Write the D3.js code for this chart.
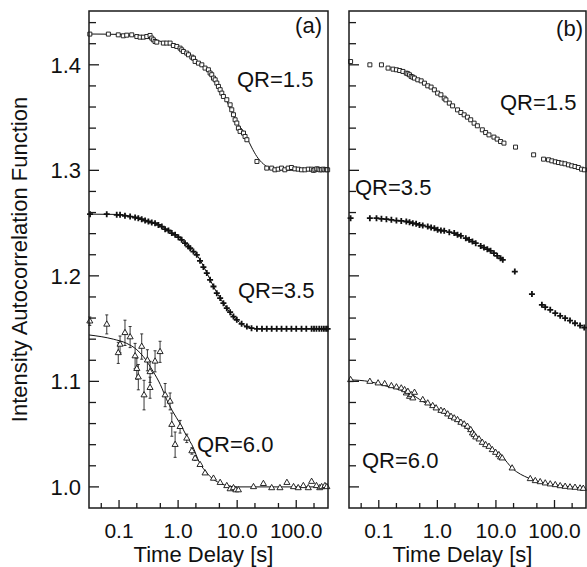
<!DOCTYPE html>
<html lang="en">
<head>
<meta charset="UTF-8" />
<title>Intensity Autocorrelation Function</title>
<script src="https://d3js.org/d3.v7.min.js"></script>
<style>
  body { margin: 0; background: #fff; }
  svg text { font-family: "Liberation Sans", Arial, Helvetica, sans-serif; fill: #111; }
</style>
</head>
<body>
<div id="chart"></div>
<script>
// ---- ticks ----
const xMajor = [0.1, 1, 10, 100];
const xMajorLabels = ["0.1", "1.0", "10.0", "100.0"];
const xMinor = [0.05, 0.2, 0.5, 2, 5, 20, 50, 200];
const yMajor = [1.0, 1.1, 1.2, 1.3, 1.4];
const yMajorLabels = ["1.0", "1.1", "1.2", "1.3", "1.4"];
const yMinor = [1.02, 1.04, 1.06, 1.08, 1.12, 1.14, 1.16, 1.18, 1.22, 1.24, 1.26, 1.28,
                1.32, 1.34, 1.36, 1.38, 1.42, 1.44];
const panelTags = ["(a)", "(b)"];
const seriesNames = ["QR=1.5", "QR=3.5", "QR=6.0"];

// ---- panel (a) data ----
const a15T = [0.032, 0.066, 0.097, 0.118, 0.135, 0.164, 0.2, 0.227, 0.258, 0.295, 0.335, 0.358, 0.381,
  0.407, 0.435, 0.563, 0.643, 0.732, 0.832, 0.95, 1.08, 1.15, 1.23, 1.4, 1.5, 1.71, 1.82, 1.94, 2.21,
  2.52, 2.86, 3.26, 3.48, 3.71, 3.97, 4.24, 4.52, 4.82, 5.15, 5.49, 5.85, 6.67, 7.6, 8.1, 8.66, 9.23,
  9.86, 10.5, 11.2, 12.8, 13.6, 14.6, 21.6, 31.7, 38.4, 43.5, 49.4, 56.4, 64.1, 73, 83, 94.7, 108,
  123, 140, 160, 182, 195, 207, 222, 236, 252, 269, 287, 306, 325, 340];
const a15G = [1.4291, 1.4291, 1.4284, 1.4275, 1.4281, 1.4284, 1.4268, 1.4262, 1.4262, 1.4268, 1.4278,
  1.4253, 1.4237, 1.4221, 1.4215, 1.4206, 1.4206, 1.4206, 1.4183, 1.4174, 1.4158, 1.4142, 1.4126,
  1.4111, 1.4095, 1.4073, 1.4063, 1.4032, 1.4016, 1.4, 1.3969, 1.3953, 1.3922, 1.3906, 1.3874, 1.3858,
  1.3827, 1.3795, 1.3764, 1.3732, 1.3700, 1.3669, 1.3621, 1.3574, 1.3527, 1.3479, 1.3448, 1.34,
  1.3369, 1.3353, 1.3321, 1.329, 1.3084, 1.3021, 1.3021, 1.3005, 1.3011, 1.3021, 1.3005, 1.3021,
  1.3027, 1.3014, 1.3011, 1.3005, 1.3005, 1.3011, 1.3011, 1.3000, 1.3005, 1.3014, 1.3011, 1.3005,
  1.3005, 1.3011, 1.3005, 1.3008, 1.3005];
const fitA15T = [0.031, 0.1, 0.2, 0.3, 0.45, 0.7, 1.0, 1.5, 2.0, 3.0, 4.0, 5.0, 6.0, 7.0, 8.5, 10.5,
  12.8, 14.6, 17.5, 21.6, 27.8, 36.4, 53, 100, 345];
const fitA15G = [1.4292, 1.4288, 1.4272, 1.4255, 1.423, 1.42, 1.4165, 1.41, 1.404, 1.395, 1.3875,
  1.379, 1.371, 1.363, 1.353, 1.3432, 1.3369, 1.331, 1.322, 1.313, 1.306, 1.302, 1.3005, 1.3, 1.3];

const a35T = [0.0323, 0.0619, 0.0914, 0.104, 0.126, 0.154, 0.187, 0.212, 0.242, 0.276, 0.314, 0.358,
  0.407, 0.464, 0.53, 0.603, 0.686, 0.782, 0.89, 1.01, 1.15, 1.31, 1.49, 1.6, 1.82, 2.07, 2.35, 2.68,
  3.06, 3.48, 3.97, 4.52, 5.15, 5.85, 6.67, 7.6, 8.66, 9.86, 11.9, 14.6, 17.5, 21.6, 26.3, 31.7, 38.4,
  46.7, 56.4, 68.4, 83, 100, 123, 148, 182, 200, 220, 245, 269, 294, 320, 340];
const a35G = [1.2585, 1.2585, 1.2578, 1.2578, 1.2569, 1.2562, 1.2553, 1.2547, 1.2537, 1.2524, 1.2515,
  1.2505, 1.2499, 1.2483, 1.2467, 1.2442, 1.243, 1.2405, 1.2389, 1.2367, 1.2341, 1.231, 1.2278,
  1.2262, 1.223, 1.2199, 1.2142, 1.2083, 1.2026, 1.1962, 1.1899, 1.1836, 1.1789, 1.1741, 1.1694,
  1.1656, 1.1614, 1.1583, 1.1545, 1.1519, 1.1504, 1.1498, 1.1498, 1.1498, 1.1498, 1.1498, 1.1498,
  1.1498, 1.1498, 1.1498, 1.1498, 1.1498, 1.1498, 1.1498, 1.1498, 1.1498, 1.1498, 1.1498, 1.1498,
  1.1498];
const fitA35T = [0.031, 0.1, 0.2, 0.3, 0.5, 0.8, 1.08, 1.5, 2.07, 3.06, 3.97, 5.15, 6.67, 8.66, 11.9,
  14.6, 21.6, 345];
const fitA35G = [1.2585, 1.2582, 1.255, 1.2518, 1.2475, 1.2405, 1.2357, 1.228, 1.2199, 1.203, 1.1899,
  1.1789, 1.1694, 1.1614, 1.1545, 1.1519, 1.15, 1.15];

const a60T = [0.032, 0.062, 0.097, 0.104, 0.126, 0.154, 0.187, 0.2, 0.212, 0.242, 0.265, 0.302, 0.335,
  0.335, 0.407, 0.495, 0.603, 0.732, 0.782, 0.89, 1.08, 1.4, 1.71, 1.94, 2.35, 2.86, 3.97, 5.15, 6.67,
  7.6, 8.66, 9.5, 10.5, 18.9, 27.8, 38.4, 53, 69.5, 90, 108, 132, 160, 182, 220, 250, 269, 306, 330];
const a60G = [1.157, 1.154, 1.127, 1.135, 1.146, 1.142, 1.124, 1.112, 1.104, 1.133, 1.087, 1.12, 1.109,
  1.094, 1.119, 1.128, 1.087, 1.081, 1.059, 1.04, 1.057, 1.046, 1.034, 1.027, 1.021, 1.013, 1.008,
  1.004, 1.001, 0.998, 0.999, 0.997, 0.997, 1.0, 1.003, 0.999, 0.999, 1.004, 1.0, 0.999, 1.001, 0.999,
  1.005, 1.001, 0.999, 1.0, 1.001, 1.0];
const a60Err = [0.004, 0.009, 0.01, 0.008, 0.012, 0.01, 0.012, 0.01, 0.012, 0.012, 0.014, 0.01, 0.01,
  0.01, 0.01, 0.01, 0.011, 0.008, 0.011, 0.012, 0.006, 0.004, 0.003, 0.002, 0, 0, 0, 0, 0, 0, 0, 0, 0,
  0, 0, 0, 0, 0, 0, 0, 0, 0, 0, 0, 0, 0, 0, 0];
const fitA60T = [0.031, 0.08, 0.135, 0.2, 0.258, 0.381, 0.5, 0.643, 0.8, 1.08, 1.4, 1.71, 2.35, 3.0,
  3.48, 5.15, 7.6, 10, 20, 345];
const fitA60G = [1.144, 1.14, 1.136, 1.13, 1.1235, 1.109, 1.097, 1.0825, 1.072, 1.06, 1.048, 1.04,
  1.022, 1.014, 1.0098, 1.0035, 1.0005, 1.0, 1.0, 1.0];

// ---- panel (b) data ----
const b15T = [0.033, 0.0704, 0.111, 0.144, 0.175, 0.2, 0.227, 0.258, 0.295, 0.314, 0.335, 0.358, 0.381,
  0.407, 0.463, 0.529, 0.602, 0.685, 0.782, 0.889, 1.01, 1.15, 1.31, 1.4, 1.6, 1.82, 2.21, 2.52, 2.87,
  3.26, 3.71, 4.24, 4.82, 5.86, 6.67, 7.61, 9.25, 10.5, 12.0, 13.7, 21.6, 44, 65.1, 79.1, 90, 103, 117,
  133, 151, 173, 197, 224, 255, 290, 324];
const b15G = [1.4031, 1.4, 1.4, 1.3969, 1.3959, 1.3953, 1.3946, 1.3937, 1.3921, 1.3915, 1.3905, 1.3889,
  1.3883, 1.3874, 1.3858, 1.3848, 1.3826, 1.3801, 1.3789, 1.3763, 1.3732, 1.3716, 1.3684, 1.3668,
  1.3637, 1.3611, 1.3573, 1.3548, 1.3526, 1.3504, 1.3479, 1.3447, 1.3422, 1.3384, 1.3358, 1.3336,
  1.3315, 1.3296, 1.3273, 1.3258, 1.322, 1.3147, 1.3106, 1.31, 1.309, 1.3081, 1.3074, 1.3068, 1.3062,
  1.3052, 1.3043, 1.3036, 1.3027, 1.3011, 1.3005];

const b35T = [0.033, 0.0704, 0.0914, 0.111, 0.135, 0.164, 0.2, 0.242, 0.295, 0.335, 0.381, 0.434, 0.495,
  0.563, 0.685, 0.782, 0.889, 1.01, 1.15, 1.31, 1.6, 1.94, 2.21, 2.52, 3.06, 3.48, 3.97, 4.52, 5.49,
  6.25, 7.13, 8.1, 9.25, 10.5, 12.0, 13.1, 21.0, 41.2, 60.9, 69.5, 84.6, 103, 125, 152, 184, 224, 273,
  322];
const b35G = [1.2547, 1.2547, 1.2547, 1.254, 1.2537, 1.2531, 1.2524, 1.2521, 1.2515, 1.2509, 1.2499,
  1.2493, 1.2483, 1.2477, 1.2467, 1.2458, 1.2452, 1.2436, 1.243, 1.2427, 1.2414, 1.2405, 1.2389,
  1.2379, 1.2357, 1.2341, 1.2325, 1.231, 1.2284, 1.2268, 1.2253, 1.2237, 1.2215, 1.219, 1.2167,
  1.2152, 1.2041, 1.1827, 1.1725, 1.1703, 1.1678, 1.1646, 1.1621, 1.1599, 1.1576, 1.1551, 1.1529,
  1.151];

const b60T = [0.033, 0.0704, 0.0973, 0.126, 0.164, 0.2, 0.242, 0.276, 0.295, 0.314, 0.335, 0.358, 0.381,
  0.407, 0.563, 0.685, 0.832, 0.952, 1.15, 1.31, 1.5, 1.71, 1.94, 2.21, 2.52, 2.87, 3.26, 3.71, 3.97,
  4.24, 4.52, 5.15, 5.85, 6.67, 7.61, 8.66, 9.86, 11.2, 12.0, 12.8, 18.9, 38.6, 47, 57, 69.5, 84.6,
  103, 125, 152, 184, 224, 273, 310];
const b60G = [1.1014, 1.0998, 1.0983, 1.0976, 1.0957, 1.0945, 1.0935, 1.0919, 1.0888, 1.0903, 1.0856,
  1.0872, 1.0841, 1.0894, 1.0825, 1.0793, 1.0768, 1.0746, 1.0723, 1.0714, 1.0689, 1.0666, 1.0651,
  1.0635, 1.061, 1.0594, 1.0572, 1.054, 1.0509, 1.0493, 1.0471, 1.0452, 1.042, 1.0398, 1.0382,
  1.0351, 1.0325, 1.0303, 1.0281, 1.0272, 1.0177, 1.0076, 1.0057, 1.0047, 1.0035, 1.0026, 1.0019,
  1.0009, 1.0003, 0.9997, 0.9994, 0.9987, 0.9984];
const fitB60T = [0.031, 0.07, 0.126, 0.2, 0.335, 0.563, 0.952, 1.6, 2.68, 4.52, 7.6, 12.8, 18.9, 36.5,
  70, 134, 340];
const fitB60G = [1.1015, 1.0998, 1.096, 1.093, 1.0888, 1.081, 1.0744, 1.0666, 1.0588, 1.0477, 1.0382,
  1.0287, 1.0178, 1.0082, 1.0035, 1.001, 0.9985];

// ---- layout ----
const W = 587, H = 567;
const yTop = 11, yBottom = 508;
const tDomain = [0.031, 345];
const gDomain = [0.98, 1.451];

const svg = d3.select("#chart").append("svg").attr("width", W).attr("height", H);
const y = d3.scaleLinear().domain(gDomain).range([yBottom, yTop]);

const panels = [
  {
    left: 89, right: 328, tag: panelTags[0], tagX: 322, tagY: 33, yLabels: true,
    series: [
      { t: a15T, g: a15G, fitT: fitA15T, fitG: fitA15G, marker: "square" },
      { t: a35T, g: a35G, fitT: fitA35T, fitG: fitA35G, marker: "plus" },
      { t: a60T, g: a60G, err: a60Err, fitT: fitA60T, fitG: fitA60G, marker: "triangle" },
    ],
    labels: [[237, 87], [238, 298], [197, 452]],
  },
  {
    left: 349, right: 586, tag: panelTags[1], tagX: 583, tagY: 36, yLabels: false,
    series: [
      { t: b15T, g: b15G, marker: "square" },
      { t: b35T, g: b35G, marker: "plus" },
      { t: b60T, g: b60G, fitT: fitB60T, fitG: fitB60G, marker: "triangle" },
    ],
    labels: [[500, 110], [355, 195], [362, 468]],
  },
];

const tri = d3.symbol(d3.symbolTriangle, 16)();

panels.forEach((p) => {
  const x = d3.scaleLog().domain(tDomain).range([p.left, p.right]);
  const g = svg.append("g");

  // fit lines
  p.series.forEach((s) => {
    if (!s.fitT) return;
    const pts = s.fitT.map((t, i) => [x(t), y(s.fitG[i])]);
    g.append("path")
      .attr("d", d3.line().curve(d3.curveMonotoneX)(pts))
      .attr("fill", "none")
      .attr("stroke", "#111")
      .attr("stroke-width", 1);
  });

  // error bars
  p.series.forEach((s) => {
    if (!s.err) return;
    s.t.forEach((t, i) => {
      if (!s.err[i]) return;
      const cx = x(t), y0 = y(s.g[i] - s.err[i]), y1 = y(s.g[i] + s.err[i]);
      g.append("path")
        .attr("d", `M${cx},${y0}V${y1}M${cx - 1.5},${y0}H${cx + 1.5}M${cx - 1.5},${y1}H${cx + 1.5}`)
        .attr("stroke", "#222")
        .attr("stroke-width", 0.9)
        .attr("fill", "none");
    });
  });

  // markers
  p.series.forEach((s) => {
    const pts = s.t.map((t, i) => [x(t), y(s.g[i])]);
    const sel = g.append("g").selectAll("path").data(pts).join("path")
      .attr("transform", (d) => `translate(${d[0]},${d[1]})`)
      .attr("fill", "none")
      .attr("stroke", "#111");
    if (s.marker === "square") {
      sel.attr("d", "M-2,-2H2V2H-2Z").attr("fill", "#fff").attr("stroke-width", 0.9);
    } else if (s.marker === "plus") {
      sel.attr("d", "M-3,0H3M0,-3V3").attr("stroke-width", 1.8);
    } else {
      sel.attr("d", tri).attr("fill", "#fff").attr("stroke-width", 0.9);
    }
  });

  // frame
  g.append("rect")
    .attr("x", p.left).attr("y", yTop)
    .attr("width", p.right - p.left).attr("height", yBottom - yTop)
    .attr("fill", "none").attr("stroke", "#1a1a1a").attr("stroke-width", 1.5);

  // x ticks (inside, pointing up)
  xMajor.forEach((t) => {
    g.append("line").attr("x1", x(t)).attr("x2", x(t))
      .attr("y1", yBottom).attr("y2", yBottom - 8)
      .attr("stroke", "#1a1a1a").attr("stroke-width", 1.3);
  });
  xMinor.forEach((t) => {
    g.append("line").attr("x1", x(t)).attr("x2", x(t))
      .attr("y1", yBottom).attr("y2", yBottom - 5)
      .attr("stroke", "#1a1a1a").attr("stroke-width", 1.3);
  });
  xMajor.forEach((t, i) => {
    g.append("text").attr("x", x(t)).attr("y", 538)
      .attr("text-anchor", "middle").style("font-size", "21px")
      .text(xMajorLabels[i]);
  });
  g.append("text")
    .attr("x", (p.left + p.right) / 2 - 5).attr("y", 562)
    .attr("text-anchor", "middle").style("font-size", "22px")
    .text("Time Delay [s]");

  // y ticks (inside, pointing right)
  yMajor.forEach((v, i) => {
    g.append("line").attr("x1", p.left).attr("x2", p.left + 10)
      .attr("y1", y(v)).attr("y2", y(v))
      .attr("stroke", "#1a1a1a").attr("stroke-width", 1.3);
    if (p.yLabels) {
      g.append("text").attr("x", 81).attr("y", y(v) + 8)
        .attr("text-anchor", "end").style("font-size", "22px")
        .text(yMajorLabels[i]);
    }
  });
  yMinor.forEach((v) => {
    g.append("line").attr("x1", p.left).attr("x2", p.left + 7)
      .attr("y1", y(v)).attr("y2", y(v))
      .attr("stroke", "#1a1a1a").attr("stroke-width", 1.3);
  });

  // labels
  g.append("text").attr("x", p.tagX).attr("y", p.tagY)
    .attr("text-anchor", "end").style("font-size", "22px").text(p.tag);
  p.labels.forEach((pos, i) => {
    g.append("text").attr("x", pos[0]).attr("y", pos[1])
      .style("font-size", "22px").text(seriesNames[i]);
  });
});

svg.append("text")
  .attr("transform", `translate(27,${(yTop + yBottom) / 2}) rotate(-90)`)
  .attr("text-anchor", "middle").style("font-size", "22px")
  .text("Intensity Autocorrelation Function");
</script>
</body>
</html>
